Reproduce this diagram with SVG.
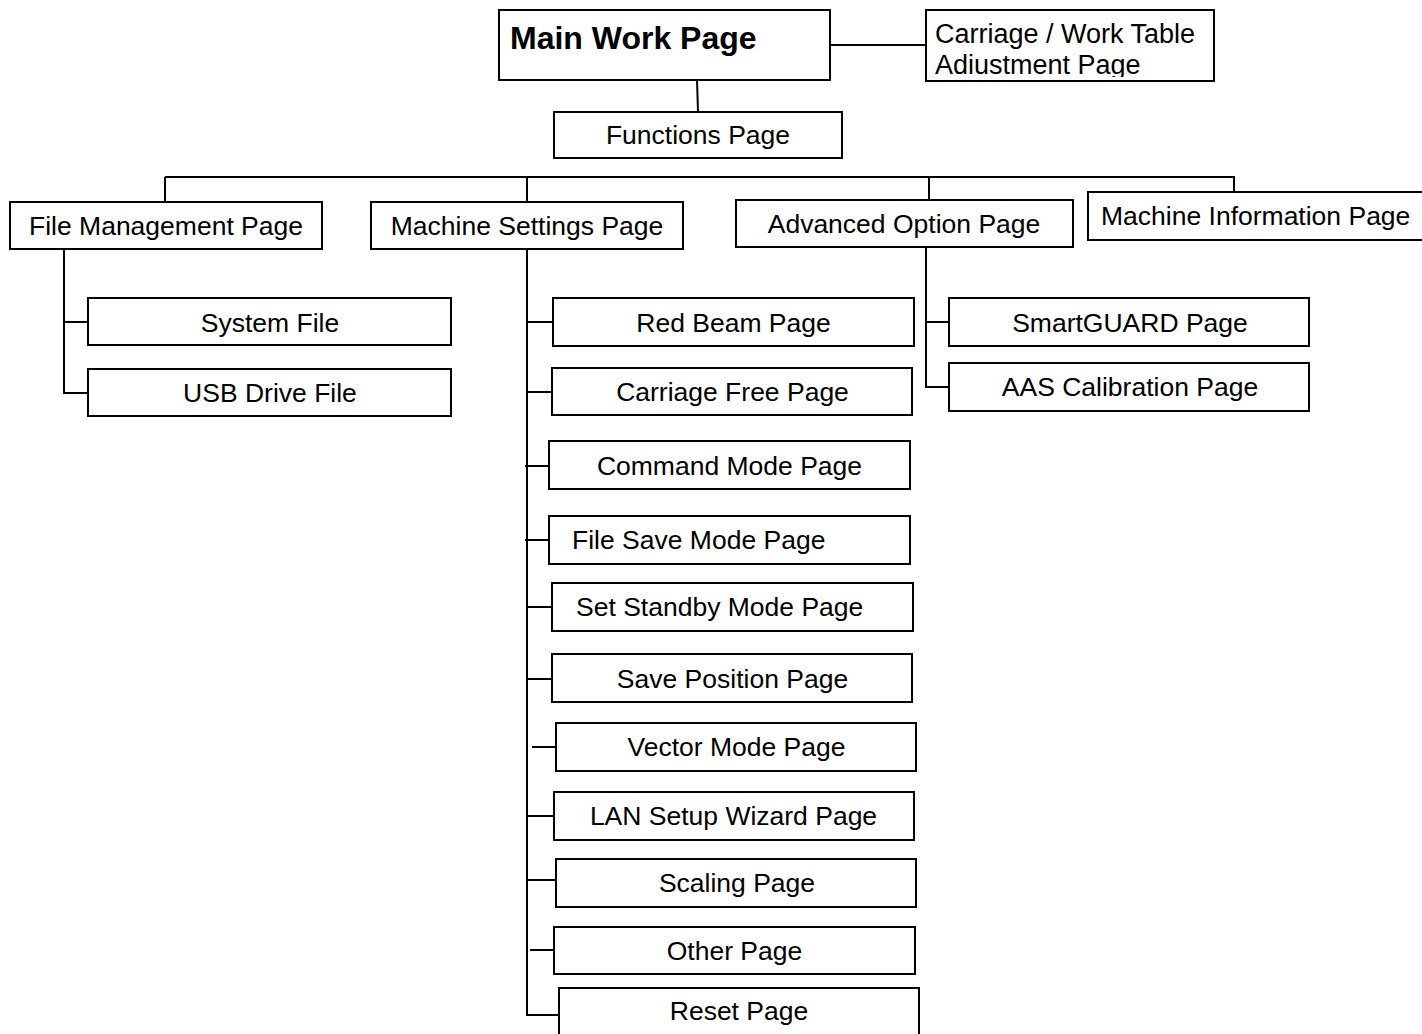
<svg xmlns="http://www.w3.org/2000/svg" width="1422" height="1034" viewBox="0 0 1422 1034">
<style>
.box{fill:#fff;stroke:#000;stroke-width:2}
.lbl{font-family:"Liberation Sans",Arial,sans-serif;font-size:26.5px;fill:#000}
.c{text-anchor:middle}
.conn line,.conn polyline{stroke:#000;stroke-width:2;fill:none}
</style>
<defs>
<clipPath id="clipCarriage"><rect x="927" y="11" width="286" height="66"/></clipPath>
</defs>
<rect width="1422" height="1034" fill="#fff"/>
<g class="conn" id="connectors">
<line x1="830" y1="45" x2="926" y2="45"/>
<line x1="697" y1="80" x2="698" y2="112"/>
<line x1="165" y1="177" x2="1235" y2="177"/>
<line x1="165" y1="177" x2="165" y2="202"/>
<line x1="527" y1="177" x2="527" y2="202"/>
<line x1="929" y1="177" x2="929" y2="200"/>
<line x1="1234" y1="177" x2="1234" y2="192"/>
<polyline points="64,250 64,393 88,393"/>
<line x1="64" y1="322" x2="88" y2="322"/>
<polyline points="926,247 926,387 949,387"/>
<line x1="926" y1="322" x2="949" y2="322"/>
<polyline points="527,250 527,1015 559,1015"/>
<line x1="527" y1="322" x2="553" y2="322"/>
<line x1="527" y1="392" x2="552" y2="392"/>
<line x1="525" y1="466" x2="549" y2="466"/>
<line x1="525" y1="540" x2="549" y2="540"/>
<line x1="527" y1="607" x2="552" y2="607"/>
<line x1="527" y1="679" x2="552" y2="679"/>
<line x1="532" y1="747" x2="556" y2="747"/>
<line x1="527" y1="816" x2="554" y2="816"/>
<line x1="527" y1="880" x2="556" y2="880"/>
<line x1="530" y1="950" x2="554" y2="950"/>
</g>
<g id="main"><rect class="box" x="499" y="10" width="331" height="70"/><text class="lbl" x="510" y="49" style="font-weight:bold;font-size:32px">Main Work Page</text></g>
<g id="carriage"><rect class="box" x="926" y="10" width="288" height="71"/><g clip-path="url(#clipCarriage)"><text class="lbl" x="935" y="43" style="font-size:27px">Carriage / Work Table</text><text class="lbl" x="935" y="74" style="font-size:27px">Adiustment Page</text></g></g>
<g id="functions"><rect class="box" x="554" y="112" width="288" height="46"/><text class="lbl c" x="698" y="144">Functions Page</text></g>
<g id="filemgmt"><rect class="box" x="10" y="202" width="312" height="47"/><text class="lbl c" x="166" y="235">File Management Page</text></g>
<g id="machsettings"><rect class="box" x="371" y="202" width="312" height="47"/><text class="lbl c" x="527" y="235">Machine Settings Page</text></g>
<g id="advanced"><rect class="box" x="736" y="200" width="337" height="47"/><text class="lbl c" x="904" y="233">Advanced Option Page</text></g>
<g id="machinfo"><rect class="box" x="1088" y="192" width="340" height="48"/><text class="lbl" x="1101" y="225">Machine Information Page</text></g>
<g id="systemfile"><rect class="box" x="88" y="298" width="363" height="47"/><text class="lbl c" x="270" y="332">System File</text></g>
<g id="usbfile"><rect class="box" x="88" y="369" width="363" height="47"/><text class="lbl c" x="270" y="402">USB Drive File</text></g>
<g id="smartguard"><rect class="box" x="949" y="298" width="360" height="48"/><text class="lbl c" x="1130" y="332">SmartGUARD Page</text></g>
<g id="aas"><rect class="box" x="949" y="363" width="360" height="48"/><text class="lbl c" x="1130" y="396">AAS Calibration Page</text></g>
<g id="redbeam"><rect class="box" x="553" y="298" width="361" height="48"/><text class="lbl c" x="733.5" y="332">Red Beam Page</text></g>
<g id="carriagefree"><rect class="box" x="552" y="368" width="360" height="47"/><text class="lbl c" x="732.5" y="401">Carriage Free Page</text></g>
<g id="command"><rect class="box" x="549" y="441" width="361" height="48"/><text class="lbl c" x="729.5" y="475">Command Mode Page</text></g>
<g id="filesave"><rect class="box" x="549" y="516" width="361" height="48"/><text class="lbl" x="572" y="549">File Save Mode Page</text></g>
<g id="standby"><rect class="box" x="552" y="583" width="361" height="48"/><text class="lbl" x="576" y="616">Set Standby Mode Page</text></g>
<g id="saveposition"><rect class="box" x="552" y="654" width="360" height="48"/><text class="lbl c" x="732.5" y="688">Save Position Page</text></g>
<g id="vector"><rect class="box" x="556" y="723" width="360" height="48"/><text class="lbl c" x="736.5" y="756">Vector Mode Page</text></g>
<g id="lan"><rect class="box" x="554" y="792" width="360" height="48"/><text class="lbl c" x="733.5" y="825">LAN Setup Wizard Page</text></g>
<g id="scaling"><rect class="box" x="556" y="859" width="360" height="48"/><text class="lbl c" x="737" y="892">Scaling Page</text></g>
<g id="other"><rect class="box" x="554" y="927" width="361" height="47"/><text class="lbl c" x="734.5" y="960">Other Page</text></g>
<g id="reset"><rect class="box" x="559" y="988" width="360" height="60"/><text class="lbl c" x="739" y="1020">Reset Page</text></g>
</svg>
